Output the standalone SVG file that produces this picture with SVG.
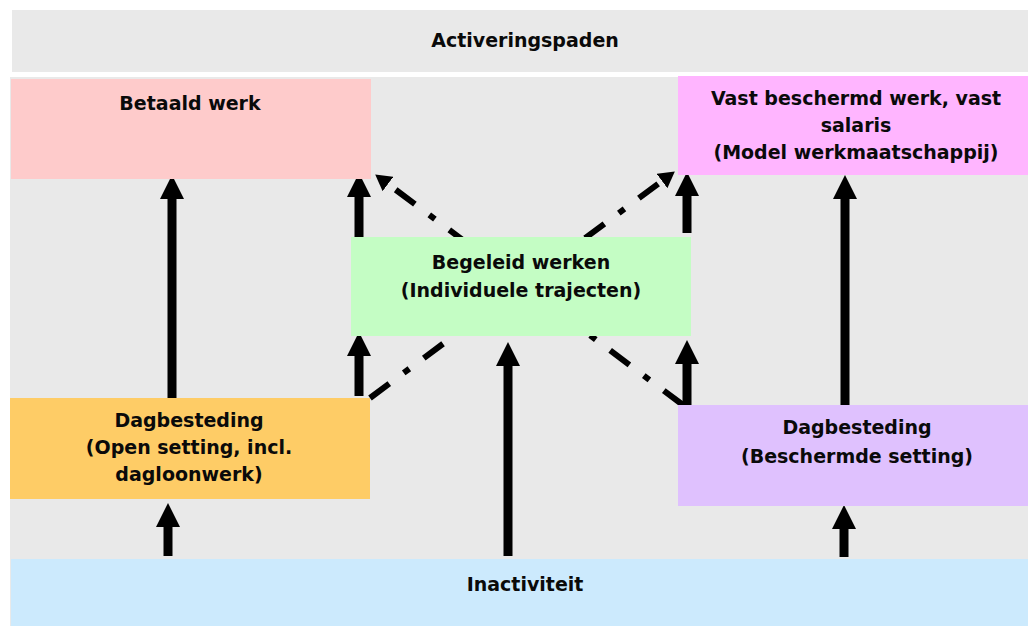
<svg xmlns="http://www.w3.org/2000/svg" width="1028" height="626" viewBox="0 0 1028 626">
  <style>
    .lbl { font-family: "DejaVu Sans", Verdana, sans-serif; font-weight: bold; font-size: 19px; fill: #0a0a0a; text-anchor: middle; }
    .solid { stroke: #000; stroke-width: 9; fill: none; stroke-linecap: butt; }
    .dd { stroke: #000; stroke-width: 6; fill: none; stroke-dasharray: 24 18 7 18; }
  </style>
  <defs>
    <marker id="head" markerUnits="userSpaceOnUse" markerWidth="24" markerHeight="24" refX="0" refY="12" orient="auto" viewBox="0 0 24 24">
      <path d="M0,0 L24,12 L0,24 Z" fill="#000"/>
    </marker>
    <marker id="headDD" markerUnits="userSpaceOnUse" markerWidth="16" markerHeight="18" refX="0" refY="9" orient="auto" viewBox="0 0 16 18">
      <path d="M0,0 L16,9 L0,18 Z" fill="#000"/>
    </marker>
  </defs>

  <rect x="0" y="0" width="1028" height="626" fill="#ffffff"/>
  <g id="title">
    <rect x="12" y="10" width="1016" height="62" fill="#e9e9e9"/>
    <text class="lbl" x="525" y="47">Activeringspaden</text>
  </g>
  <rect id="canvas" x="10" y="77" width="1018" height="549" fill="#e9e9e9"/>

  <g id="connectors">
    <!-- dash-dot diagonals (drawn beneath the central box) -->
    <line class="dd" x1="683" y1="405" x2="388" y2="184" marker-end="url(#headDD)"/>
    <line class="dd" x1="370" y1="398" x2="662" y2="181" marker-end="url(#headDD)"/>
    <!-- solid arrows -->
    <line class="solid" x1="172" y1="398" x2="172" y2="199" marker-end="url(#head)"/>
    <line class="solid" x1="359" y1="237" x2="359" y2="197" marker-end="url(#head)"/>
    <line class="solid" x1="359" y1="396" x2="359" y2="356" marker-end="url(#head)"/>
    <line class="solid" x1="687" y1="233" x2="687" y2="196" marker-end="url(#head)"/>
    <line class="solid" x1="687" y1="405" x2="687" y2="364" marker-end="url(#head)"/>
    <line class="solid" x1="845" y1="405" x2="845" y2="199" marker-end="url(#head)"/>
    <line class="solid" x1="168" y1="556" x2="168" y2="527" marker-end="url(#head)"/>
    <line class="solid" x1="508" y1="556" x2="508" y2="366" marker-end="url(#head)"/>
    <line class="solid" x1="844" y1="557" x2="844" y2="529" marker-end="url(#head)"/>
  </g>

  <g id="betaald">
    <rect x="11" y="79" width="360" height="100" fill="#fecbcb"/>
    <text class="lbl" x="190" y="110">Betaald werk</text>
  </g>
  <g id="vast">
    <rect x="678" y="76" width="350" height="99" fill="#ffb5ff"/>
    <text class="lbl" x="856" y="105">Vast beschermd werk, vast</text>
    <text class="lbl" x="856" y="132">salaris</text>
    <text class="lbl" x="856" y="159">(Model werkmaatschappij)</text>
  </g>
  <g id="begeleid">
    <rect x="351" y="237" width="340" height="99" fill="#c4fdc4"/>
    <text class="lbl" x="521" y="269">Begeleid werken</text>
    <text class="lbl" x="521" y="297">(Individuele trajecten)</text>
  </g>
  <g id="dag-open">
    <rect x="10" y="398" width="360" height="101" fill="#fecc66"/>
    <text class="lbl" x="189" y="427">Dagbesteding</text>
    <text class="lbl" x="189" y="454">(Open setting, incl.</text>
    <text class="lbl" x="189" y="481">dagloonwerk)</text>
  </g>
  <g id="dag-beschermd">
    <rect x="678" y="405" width="350" height="101" fill="#dfc1fe"/>
    <text class="lbl" x="857" y="434">Dagbesteding</text>
    <text class="lbl" x="857" y="463">(Beschermde setting)</text>
  </g>
  <g id="inactiviteit">
    <rect x="11" y="559" width="1017" height="67" fill="#cceafd"/>
    <text class="lbl" x="525" y="591">Inactiviteit</text>
  </g>
</svg>
